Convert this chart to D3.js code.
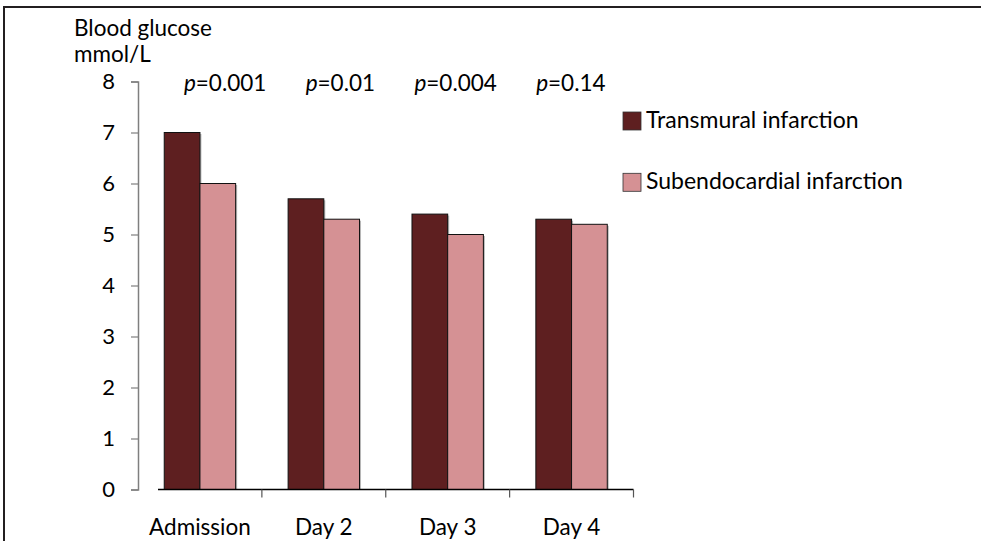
<!DOCTYPE html>
<html>
<head>
<meta charset="utf-8">
<script src="https://cdn.jsdelivr.net/npm/d3@7"></script>
<style>
  html, body { margin: 0; padding: 0; background: #fff; }
  svg { display: block; }
  text { font-family: Lato, "Open Sans", "Liberation Sans", sans-serif; fill: #000; }
</style>
</head>
<body>
<svg id="chart" width="981" height="541"></svg>
<script>
// Blood glucose by day after infarction, two infarction types
const categories = ["Admission", "Day 2", "Day 3", "Day 4"];
const seriesNames = ["Transmural infarction", "Subendocardial infarction"];
const transmural = [7.0, 5.7, 5.4, 5.3];
const subendocardial = [6.0, 5.3, 5.0, 5.2];
const pValues = ["0.001", "0.01", "0.004", "0.14"];
const yTicks = [0, 1, 2, 3, 4, 5, 6, 7, 8];
const colors = ["#5e1f20", "#d59194"];

const svg = d3.select("#chart");
const W = 981, H = 541;
const fontSize = 22.5;
const legendFontSize = 23;
const tickFontSize = 22;

// frame: top and left rules
svg.append("line").attr("x1", 4).attr("x2", W).attr("y1", 7).attr("y2", 7)
  .attr("stroke", "#231f20").attr("stroke-width", 2);
svg.append("line").attr("x1", 4).attr("x2", 4).attr("y1", 6).attr("y2", H)
  .attr("stroke", "#231f20").attr("stroke-width", 2);

const plotLeft = 138, plotRight = 633.5;
const y = d3.scaleLinear().domain([0, 8]).range([489.5, 81.5]);
const x0 = d3.scaleBand().domain(categories).range([plotLeft, plotRight]).paddingInner(0).paddingOuter(0);
const groupWidth = 71.4;
const x1 = d3.scaleBand().domain(seriesNames).range([0, groupWidth]).padding(0);

const rows = categories.map((c, i) => ({ cat: c, vals: [transmural[i], subendocardial[i]] }));

// bars with a soft drop shadow
const groups = svg.append("g").selectAll("g").data(rows).join("g")
  .attr("transform", d => `translate(${x0(d.cat) + (x0.bandwidth() - groupWidth) / 2},0)`);
groups.selectAll("rect.shadow").data(d => d.vals.map((v, j) => ({ v, name: seriesNames[j] })))
  .join("rect").attr("class", "shadow")
  .attr("x", d => x1(d.name) + 1.5).attr("y", d => y(d.v) + 1.5)
  .attr("width", x1.bandwidth()).attr("height", d => y(0) - y(d.v) - 1.5)
  .attr("fill", "#8a8a8a").attr("opacity", 0.6);
groups.selectAll("rect.bar").data(d => d.vals.map((v, j) => ({ v, j, name: seriesNames[j] })))
  .join("rect").attr("class", "bar")
  .attr("x", d => x1(d.name)).attr("y", d => y(d.v))
  .attr("width", x1.bandwidth()).attr("height", d => y(0) - y(d.v))
  .attr("fill", d => colors[d.j]).attr("stroke", "#111").attr("stroke-width", 1);

// y axis
const yAxis = d3.axisLeft(y).tickValues(yTicks).tickSize(7).tickPadding(16).tickFormat(d3.format("d"));
const gy = svg.append("g").attr("transform", `translate(${plotLeft},0)`).call(yAxis);
gy.select(".domain").attr("stroke", "#7f7f7f").attr("stroke-width", 1.5);
gy.selectAll(".tick line").attr("stroke", "#7f7f7f").attr("stroke-width", 1.2);
gy.selectAll(".tick text").attr("font-size", tickFontSize).attr("font-family", null).attr("fill", "#000");

// x axis: tick marks at category boundaries
const boundaries = categories.map(c => x0(c) + x0.bandwidth());
svg.append("line").attr("x1", 158).attr("x2", plotRight).attr("y1", y(0)).attr("y2", y(0))
  .attr("stroke", "#000").attr("stroke-width", 1.5);
svg.append("g").selectAll("line").data(boundaries).join("line")
  .attr("x1", d => d).attr("x2", d => d).attr("y1", y(0)).attr("y2", y(0) + 8)
  .attr("stroke", "#555").attr("stroke-width", 1.2);
svg.append("g").selectAll("text").data(categories).join("text")
  .attr("x", d => x0(d) + x0.bandwidth() / 2).attr("y", 535)
  .attr("text-anchor", "middle").attr("font-size", fontSize).text(d => d);

// y axis title
svg.append("text").attr("x", 74).attr("y", 36).attr("font-size", fontSize).text("Blood glucose");
svg.append("text").attr("x", 74).attr("y", 62).attr("font-size", fontSize).text("mmol/L");

// p-value annotations above each day
const xp = d3.scaleBand().domain(categories).range([167.5, 628.5]);
svg.append("g").selectAll("text").data(categories).join("text")
  .attr("x", d => xp(d) + xp.bandwidth() / 2).attr("y", 91)
  .attr("text-anchor", "middle").attr("font-size", fontSize)
  .each(function (d, i) {
    const t = d3.select(this);
    t.append("tspan").attr("font-style", "italic").text("p");
    t.append("tspan").text("=" + pValues[i]);
  });

// legend
const legend = svg.append("g").selectAll("g").data(seriesNames).join("g")
  .attr("transform", (d, i) => `translate(623,${112 + i * 61.3})`);
legend.append("rect").attr("width", 18).attr("height", 18)
  .attr("fill", (d, i) => colors[i]).attr("stroke", "#333").attr("stroke-width", 0.8);
legend.append("text").attr("x", 23).attr("y", 15.5).attr("font-size", legendFontSize).text(d => d);
</script>
</body>
</html>
